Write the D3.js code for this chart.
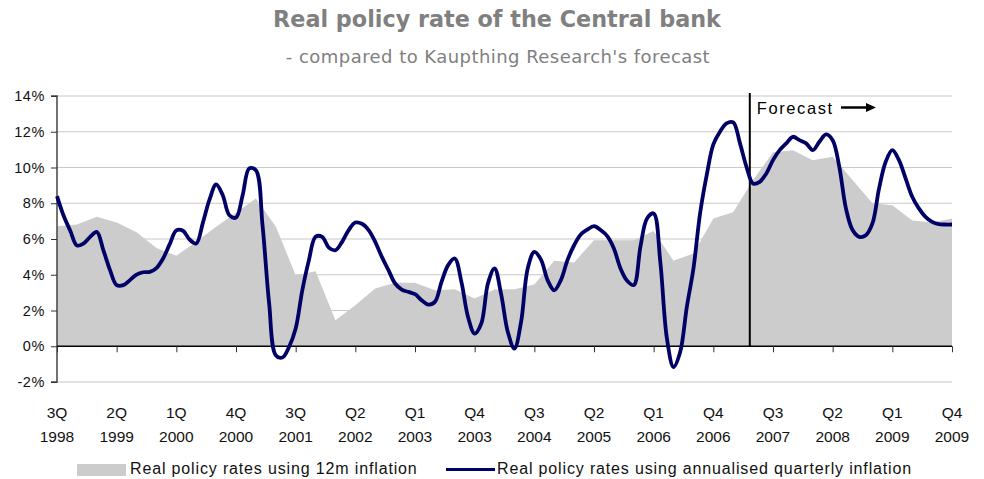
<!DOCTYPE html>
<html>
<head>
<meta charset="utf-8">
<script src="https://cdn.jsdelivr.net/npm/d3@7"></script>
<style>
  html, body { margin: 0; padding: 0; background: #ffffff; }
  svg { display: block; }
</style>
</head>
<body>
<svg id="chart" width="984" height="479"></svg>
<script>
// Months counted from 3Q 1998 (index 0) to Q4 2009 (index 135)
const monthCount = 135;

// Axis tick labels, one every 9 months
const xTickLabels = [
  ["3Q", "1998"], ["2Q", "1999"], ["1Q", "2000"], ["4Q", "2000"],
  ["3Q", "2001"], ["Q2", "2002"], ["Q1", "2003"], ["Q4", "2003"],
  ["Q3", "2004"], ["Q2", "2005"], ["Q1", "2006"], ["Q4", "2006"],
  ["Q3", "2007"], ["Q2", "2008"], ["Q1", "2009"], ["Q4", "2009"]
];
const yTicks = [-2, 0, 2, 4, 6, 8, 10, 12, 14];

// Real policy rate using 12m inflation (quarterly, %)
const rate12m = [
  6.72, 6.81, 7.24, 6.93, 6.38, 5.50, 5.06, 5.85, 6.68, 7.47,
  8.27, 6.70, 3.97, 4.20, 1.46, 2.30, 3.23, 3.55, 3.55, 3.13,
  3.19, 2.67, 3.17, 3.19, 3.45, 4.78, 4.69, 5.93, 5.93, 5.93,
  6.45, 4.78, 5.19, 7.15, 7.49, 9.30, 10.85, 10.97, 10.41, 10.60,
  9.30, 8.00, 7.89, 7.03, 6.93, 7.15
];

// Real policy rate using annualised quarterly inflation (monthly, %)
const rateQuarterly = [
  8.40, 7.30, 6.46, 5.64, 5.75, 6.12, 6.40, 5.37, 4.26, 3.42,
  3.42, 3.70, 4.01, 4.14, 4.16, 4.37, 4.91, 5.71, 6.48, 6.46,
  5.97, 5.75, 6.90, 8.20, 9.05, 8.45, 7.33, 7.20, 8.45, 9.95,
  9.85, 6.77, 2.39, -0.50, -0.63, -0.04, 0.99, 3.13, 4.82, 6.12,
  6.12, 5.52, 5.37, 5.84, 6.50, 6.92, 6.85, 6.50, 5.84, 5.00,
  4.26, 3.51, 3.17, 3.04, 2.91, 2.58, 2.33, 2.48, 3.60, 4.54,
  4.91, 3.60, 1.64, 0.71, 1.27, 3.51, 4.35, 2.90, 0.80, -0.13,
  1.36, 4.35, 5.28, 4.85, 3.70, 3.13, 3.70, 4.82, 5.65, 6.25,
  6.53, 6.72, 6.50, 6.16, 5.47, 4.35, 3.66, 3.42, 5.56, 7.15,
  7.43, 4.72, 0.43, -1.16, -0.32, 2.20, 4.35, 7.43, 9.57, 11.29,
  12.00, 12.47, 12.52, 11.38, 10.04, 9.10, 9.20, 9.67, 10.41, 10.97,
  11.35, 11.72, 11.53, 11.35, 10.97, 11.44, 11.85, 11.53, 10.04, 7.71,
  6.50, 6.12, 6.21, 6.87, 8.83, 10.32, 10.97, 10.41, 9.39, 8.36,
  7.71, 7.24, 6.96, 6.83, 6.81, 6.81
];

// Forecast period starts here (month index)
const forecastStart = 104.5;

const seriesNames = [
  "Real policy rates using 12m inflation",
  "Real policy rates using annualised quarterly inflation"
];

const svg = d3.select("#chart");
const plot = { left: 57, right: 952, top: 96, bottom: 382 };

const x = d3.scaleLinear().domain([0, monthCount]).range([plot.left, plot.right]);
const y = d3.scaleLinear().domain([-2, 14]).range([plot.bottom, plot.top]);

const axisFont = "'Liberation Sans', Arial, sans-serif";

// Title and subtitle
svg.append("text")
  .attr("x", 497).attr("y", 27)
  .attr("text-anchor", "middle")
  .attr("font-family", "'DejaVu Sans', Verdana, sans-serif")
  .attr("font-weight", "bold")
  .attr("font-size", 22.3)
  .attr("fill", "#808080")
  .text("Real policy rate of the Central bank");

svg.append("text")
  .attr("x", 498).attr("y", 63)
  .attr("text-anchor", "middle")
  .attr("font-family", "'DejaVu Sans', Verdana, sans-serif")
  .attr("font-size", 18)
  .attr("letter-spacing", 0.45)
  .attr("fill", "#808080")
  .text("- compared to Kaupthing Research's forecast");

// Horizontal gridlines
svg.append("g")
  .selectAll("line")
  .data(yTicks.filter(d => d !== 0))
  .join("line")
  .attr("x1", plot.left).attr("x2", plot.right)
  .attr("y1", d => y(d)).attr("y2", d => y(d))
  .attr("stroke", "#c8c8c8")
  .attr("stroke-width", 1.2);

// Shaded area: 12m inflation based rate
const quarterPoints = rate12m.map((v, i) => [i * 3, v]);
svg.append("path")
  .datum(quarterPoints)
  .attr("fill", "#cccccc")
  .attr("d", d3.area()
    .x(d => x(d[0]))
    .y0(y(0))
    .y1(d => y(d[1])));

// Y axis
const yAxis = d3.axisLeft(y)
  .tickValues(yTicks)
  .tickSize(6)
  .tickPadding(6)
  .tickFormat(d => d + "%");
const gy = svg.append("g")
  .attr("transform", `translate(${plot.left},0)`)
  .call(yAxis);
gy.select(".domain").attr("stroke", "#444").attr("stroke-width", 1.5).attr("d", `M-6,${plot.bottom}H0V${plot.top}H-6`);
gy.selectAll(".tick line").attr("stroke", "#333");
gy.selectAll(".tick text")
  .attr("font-family", axisFont)
  .attr("font-size", 14.5)
  .attr("letter-spacing", 0.6)
  .attr("fill", "#111");

// X axis on the zero line
const xTickValues = xTickLabels.map((_, i) => i * 9);
const xAxis = d3.axisBottom(x)
  .tickValues(xTickValues)
  .tickSize(6)
  .tickFormat("");
const gx = svg.append("g")
  .attr("transform", `translate(0,${y(0)})`)
  .call(xAxis);
gx.select(".domain").attr("stroke", "#000").attr("stroke-width", 1.5).attr("d", `M${plot.left},0H${plot.right}`);
gx.selectAll(".tick line").attr("stroke", "#333");

// Category labels below the plot
const labelG = svg.append("g")
  .attr("font-family", axisFont)
  .attr("font-size", 15.5)
  .attr("fill", "#111")
  .attr("text-anchor", "middle");
labelG.selectAll("text.q")
  .data(xTickLabels)
  .join("text")
  .attr("class", "q")
  .attr("x", (d, i) => x(xTickValues[i]))
  .attr("y", 418)
  .text(d => d[0]);
labelG.selectAll("text.yr")
  .data(xTickLabels)
  .join("text")
  .attr("class", "yr")
  .attr("x", (d, i) => x(xTickValues[i]))
  .attr("y", 442)
  .text(d => d[1]);

// Forecast divider
svg.append("line")
  .attr("x1", x(forecastStart)).attr("x2", x(forecastStart))
  .attr("y1", 93).attr("y2", y(0))
  .attr("stroke", "#000")
  .attr("stroke-width", 2);

svg.append("text")
  .attr("x", x(forecastStart) + 7).attr("y", 114)
  .attr("font-family", axisFont)
  .attr("font-size", 16.5)
  .attr("letter-spacing", 1.6)
  .attr("fill", "#000")
  .text("Forecast");

svg.append("line")
  .attr("x1", 841).attr("x2", 868)
  .attr("y1", 107.5).attr("y2", 107.5)
  .attr("stroke", "#000")
  .attr("stroke-width", 2.5);
svg.append("path")
  .attr("d", "M866,103L876,107.5L866,112Z")
  .attr("fill", "#000");

// Line: annualised quarterly inflation based rate
svg.append("path")
  .datum(rateQuarterly.map((v, i) => [i, v]))
  .attr("fill", "none")
  .attr("stroke", "#000066")
  .attr("stroke-width", 3.8)
  .attr("stroke-linejoin", "round")
  .attr("d", d3.line()
    .x(d => x(d[0]))
    .y(d => y(d[1]))
    .curve(d3.curveCatmullRom.alpha(0.5)));

// Legend
const legend = svg.append("g")
  .attr("font-family", axisFont)
  .attr("font-size", 16)
  .attr("letter-spacing", 0.85)
  .attr("fill", "#111");
legend.append("rect")
  .attr("x", 77).attr("y", 464)
  .attr("width", 49).attr("height", 12)
  .attr("fill", "#cccccc");
legend.append("text")
  .attr("x", 130).attr("y", 474)
  .text(seriesNames[0]);
legend.append("line")
  .attr("x1", 446).attr("x2", 495)
  .attr("y1", 469.5).attr("y2", 469.5)
  .attr("stroke", "#000066")
  .attr("stroke-width", 3.2);
legend.append("text")
  .attr("x", 497).attr("y", 474)
  .text(seriesNames[1]);
</script>
</body>
</html>
